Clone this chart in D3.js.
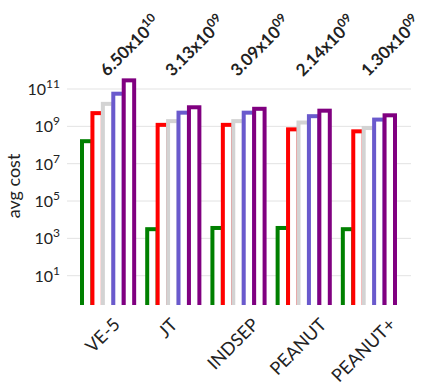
<!DOCTYPE html>
<html>
<head>
<meta charset="utf-8">
<script src="https://cdn.jsdelivr.net/npm/d3@7"></script>
<style>
  body { margin: 0; background: #fff; }
  text { font-family: Lato, "DejaVu Sans", sans-serif; fill: #222; }
</style>
</head>
<body>
<script>
/* ---------------------------- */
/* DATA                         */
/* ---------------------------- */

const groups = ["VE-5", "JT", "INDSEP", "PEANUT", "PEANUT+"];
const series = ["s1", "s2", "s3", "s4", "s5"];

// avg cost per group, one array per series
const s1 = [1.6e8, 3.1e3, 3.6e3, 3.6e3, 3.1e3];
const s2 = [5.1e9, 1.2e9, 1.2e9, 6.9e8, 5.4e8];
const s3 = [1.6e10, 1.9e9, 1.9e9, 1.6e9, 8.1e8];
const s4 = [5.6e10, 5.4e9, 5.4e9, 3.5e9, 2.3e9];
const s5 = [2.9e11, 1.05e10, 8.7e9, 6.9e9, 3.9e9];

// labels above each group: mantissa and exponent
const annMantissa = ["6.50", "3.13", "3.09", "2.14", "1.30"];
const annExponent = ["10", "09", "09", "09", "09"];

const tickExps = [1, 3, 5, 7, 9, 11];

const colors = ["green", "red", "lightgray", "slateblue", "purple"];

/* ---------------------------- */
/* CANVAS                       */
/* ---------------------------- */

const w = 440, h = 391;
const plot = {left: 67, right: 411, bottom: 305};

let svg = d3.select("body").append("svg")
    .attr("width", w)
    .attr("height", h);

let y = d3.scaleLog()
    .domain([1e1, 1e11])
    .range([275.7, 89]);

let x0 = d3.scaleBand()
    .domain(groups)
    .range([82, 395])
    .paddingInner(0.2)
    .paddingOuter(0);

let x1 = d3.scaleBand()
    .domain(series)
    .range([0, x0.bandwidth()]);

// gridlines + tick labels
let yAxis = svg.append("g");
tickExps.forEach(e => {
    let yy = y(Math.pow(10, e));
    yAxis.append("line")
        .attr("x1", plot.left).attr("x2", plot.right)
        .attr("y1", yy).attr("y2", yy)
        .attr("stroke", "#e3e3e3")
        .attr("stroke-width", 1);
    let t = yAxis.append("text")
        .attr("x", 60)
        .attr("y", yy + 6)
        .attr("text-anchor", "end")
        .style("font-size", "16px");
    t.append("tspan").text("10");
    t.append("tspan").attr("dy", -7).style("font-size", "12px").text(e);
});

// y label
svg.append("text")
    .attr("transform", "translate(20, 186) rotate(-90)")
    .attr("text-anchor", "middle")
    .style("font-size", "18px")
    .text("avg cost");

/* ---------------------------- */
/* BARS                         */
/* ---------------------------- */

svg.append("clipPath").attr("id", "clip")
    .append("rect")
    .attr("x", 0).attr("y", 0)
    .attr("width", w).attr("height", plot.bottom);

const table = [s1, s2, s3, s4, s5];
let bars = svg.append("g").attr("clip-path", "url(#clip)");

groups.forEach((g, gi) => {
    series.forEach((s, si) => {
        let v = table[si][gi];
        bars.append("rect")
            .attr("x", x0(g) + x1(s))
            .attr("y", y(v))
            .attr("width", x1.bandwidth())
            .attr("height", plot.bottom + 10 - y(v))
            .attr("fill", "white")
            .attr("stroke", colors[si])
            .attr("stroke-width", 4);
    });
});

/* ---------------------------- */
/* LABELS                       */
/* ---------------------------- */

// rotated text: bounding box centred on cx, with its top (or bottom) at yy
function placeRotated(textSel, cx, yy, alignTop) {
    let bb = textSel.node().getBBox();
    let c = Math.SQRT1_2;
    // corners of the local box after rotate(-45)
    let pts = [[bb.x, bb.y], [bb.x + bb.width, bb.y], [bb.x, bb.y + bb.height], [bb.x + bb.width, bb.y + bb.height]]
        .map(p => [c * p[0] + c * p[1], -c * p[0] + c * p[1]]);
    let xs = pts.map(p => p[0]), ys = pts.map(p => p[1]);
    let px = cx - (d3.min(xs) + d3.max(xs)) / 2;
    let py = alignTop ? yy - d3.min(ys) : yy - d3.max(ys);
    textSel.attr("transform", "translate(" + px + "," + py + ") rotate(-45)");
}

groups.forEach((g, gi) => {
    let cx = x0(g) + x0.bandwidth() / 2 - 6;
    let t = svg.append("text")
        .attr("text-anchor", "end")
        .style("font-size", "18px")
        .text(g);
    placeRotated(t, cx, 313, true);
});

groups.forEach((g, gi) => {
    let cx = x0(g) + x1("s5") + x1.bandwidth() / 2;
    let t = svg.append("text")
        .style("font-size", "17px")
        .style("font-weight", "bold");
    t.append("tspan").text(annMantissa[gi] + "x10");
    t.append("tspan").attr("dy", -7).style("font-size", "12px").text(annExponent[gi]);
    placeRotated(t, cx, 80, false);
});
</script>
</body>
</html>
